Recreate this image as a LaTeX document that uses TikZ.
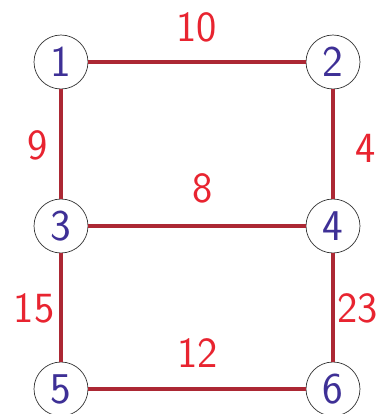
\documentclass[tikz,border=0pt]{standalone}
\usetikzlibrary{positioning}
\definecolor{nodeblue}{RGB}{62,48,150}
\definecolor{edgered}{RGB}{172,40,52}
\definecolor{labelred}{RGB}{232,36,48}
\tikzset{
  vertex/.style={circle, draw=black!80, thin, fill=white, minimum size=1.08cm, inner sep=0pt,
    text=nodeblue, font=\sffamily\fontsize{25}{30}\selectfont},
  edge/.style={edgered, line width=1.8pt},
  weight/.style={text=labelred, font=\sffamily\fontsize{24.5}{29}\selectfont}
}
\begin{document}
\begin{tikzpicture}[x=0.02cm, y=-0.02cm]
\useasboundingbox (0,0) rectangle (380,414);

% Vertices
\node[vertex] (n1) at (61,62) {1};
\node[vertex] (n2) at (333,62) {2};
\node[vertex] (n3) at (61,226) {3};
\node[vertex] (n4) at (333,226) {4};
\node[vertex] (n5) at (61,389) {5};
\node[vertex] (n6) at (333,389) {6};

% Edges
\draw[edge] (n1) -- (n2);
\draw[edge] (n1) -- (n3);
\draw[edge] (n2) -- (n4);
\draw[edge] (n3) -- (n4);
\draw[edge] (n3) -- (n5);
\draw[edge] (n4) -- (n6);
\draw[edge] (n5) -- (n6);

% Weights
\node[weight] (w12) at (197,27) {10};
\node[weight] (w13) at (38,145) {9};
\node[weight] (w24) at (366,148) {4};
\node[weight] (w34) at (203,188) {8};
\node[weight] (w35) at (34,308) {15};
\node[weight] (w46) at (358,308) {23};
\node[weight] (w56) at (198,353) {12};
\end{tikzpicture}
\end{document}
